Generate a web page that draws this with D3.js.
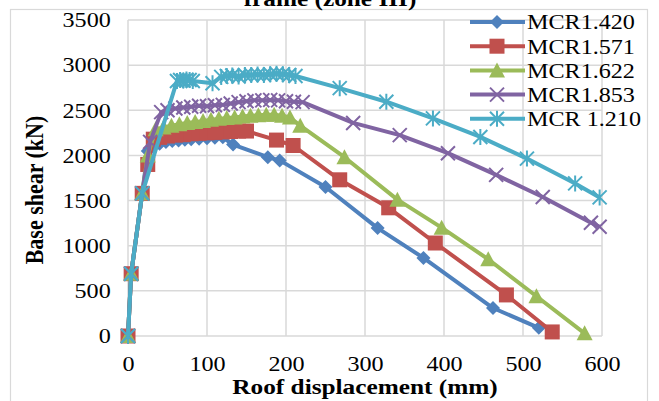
<!DOCTYPE html>
<html>
<head>
<meta charset="utf-8">
<script src="https://cdn.jsdelivr.net/npm/d3@7"></script>
<style>
  html, body { margin: 0; padding: 0; background: #fff; }
  svg { display: block; font-family: "Liberation Serif", "Times New Roman", serif; }
</style>
</head>
<body>
<svg id="chart" width="659" height="401"></svg>
<script>
// displacement (mm) and base shear (kN)
const x1420 = [0, 4, 18, 25, 32, 40, 48, 56, 64, 72, 80, 90, 100, 110, 120, 133, 177, 192, 250, 316, 374, 462, 520];
const y1420 = [0, 690, 1580, 2050, 2110, 2130, 2150, 2160, 2165, 2175, 2180, 2185, 2190, 2195, 2200, 2120, 1980, 1945, 1650, 1195, 865, 310, 90];

const x1571 = [0, 4, 18, 25, 32, 40, 50, 60, 70, 80, 90, 100, 110, 120, 130, 140, 150, 188, 209, 268, 330, 389, 479, 537];
const y1571 = [0, 690, 1580, 1900, 2180, 2200, 2215, 2225, 2230, 2240, 2245, 2250, 2255, 2260, 2265, 2270, 2270, 2170, 2110, 1730, 1420, 1030, 455, 45];

const x1622 = [0, 4, 18, 25, 35, 45, 55, 65, 75, 85, 95, 105, 115, 125, 135, 145, 155, 165, 175, 185, 195, 205, 218, 274, 341, 397, 456, 517, 578];
const y1622 = [0, 690, 1580, 2000, 2290, 2310, 2330, 2345, 2360, 2370, 2380, 2395, 2405, 2415, 2420, 2430, 2440, 2445, 2450, 2450, 2440, 2420, 2330, 1980, 1510, 1200, 850, 440, 30];

const x1853 = [0, 4, 18, 28, 42, 50, 60, 70, 80, 90, 100, 110, 120, 130, 140, 150, 160, 170, 180, 190, 200, 210, 221, 285, 344, 405, 466, 525, 586, 597];
const y1853 = [0, 690, 1580, 2150, 2480, 2500, 2520, 2530, 2540, 2550, 2545, 2555, 2560, 2575, 2590, 2600, 2610, 2610, 2615, 2610, 2600, 2595, 2590, 2360, 2225, 2025, 1785, 1540, 1255, 1210];

const x1210 = [0, 4, 18, 62, 66, 70, 74, 78, 82, 107, 118, 125, 132, 140, 148, 156, 164, 172, 180, 188, 196, 204, 212, 268, 327, 386, 446, 505, 566, 597];
const y1210 = [0, 690, 1580, 2825, 2835, 2830, 2840, 2835, 2825, 2800, 2870, 2880, 2885, 2875, 2890, 2890, 2895, 2890, 2900, 2905, 2900, 2890, 2880, 2745, 2595, 2410, 2205, 1965, 1690, 1535];

const seriesNames = ["MCR1.420", "MCR1.571", "MCR1.622", "MCR1.853", "MCR 1.210"];
const seriesColors = ["#4F81BD", "#C0504D", "#9BBB59", "#8064A2", "#4BACC6"];
const seriesMarks = ["diamond", "square", "triangle", "x", "star"];
const xTicks = [0, 100, 200, 300, 400, 500, 600];
const yTicks = [0, 500, 1000, 1500, 2000, 2500, 3000, 3500];

const series = [
  [x1420, y1420], [x1571, y1571], [x1622, y1622], [x1853, y1853], [x1210, y1210]
].map(([xs, ys], i) => ({
  name: seriesNames[i], color: seriesColors[i], mark: seriesMarks[i],
  pts: xs.map((d, j) => [d, ys[j]])
}));

const svg = d3.select("#chart");
const grid = "#d9d9d9";
const stretch = 1.15; // source picture is a bit wider than tall

const x = d3.scaleLinear().domain([0, 600]).range([128, 602]);
const y = d3.scaleLinear().domain([0, 3500]).range([336, 20]);

// outer chart border
svg.append("rect")
  .attr("x", 10.5).attr("y", 9.5)
  .attr("width", 637).attr("height", 400)
  .attr("fill", "none").attr("stroke", grid).attr("stroke-width", 1.2);

// title (its top line is cut off in the source)
svg.append("text")
  .attr("transform", `translate(330,6) scale(${stretch},1)`)
  .attr("text-anchor", "middle")
  .attr("font-weight", "bold").attr("font-size", 22)
  .text("frame (zone III)");

// gridlines
svg.append("g").selectAll("line").data(yTicks).join("line")
  .attr("x1", x(0)).attr("x2", x(600))
  .attr("y1", d => y(d)).attr("y2", d => y(d))
  .attr("stroke", grid).attr("stroke-width", 1.5);
svg.append("g").selectAll("line").data(xTicks).join("line")
  .attr("x1", d => x(d)).attr("x2", d => x(d))
  .attr("y1", y(0)).attr("y2", y(3500))
  .attr("stroke", grid).attr("stroke-width", 1.5);

// axes (labels only)
const xAxis = svg.append("g")
  .attr("transform", `translate(0,${y(0)})`)
  .call(d3.axisBottom(x).tickValues(xTicks).tickFormat(d3.format("d")).tickSize(0).tickPadding(20));
const yAxis = svg.append("g")
  .attr("transform", `translate(${x(0)},0)`)
  .call(d3.axisLeft(y).tickValues(yTicks).tickFormat(d3.format("d")).tickSize(0).tickPadding(15));
[xAxis, yAxis].forEach(g => {
  g.select(".domain").remove();
  g.selectAll(".tick text")
    .attr("font-family", "Liberation Serif, Times New Roman, serif")
    .attr("font-size", 21).attr("fill", "#000")
    .attr("transform", `scale(${stretch},1)`);
});

// axis titles
svg.append("text")
  .attr("transform", `translate(365,394) scale(${stretch},1)`)
  .attr("text-anchor", "middle")
  .attr("font-weight", "bold").attr("font-size", 22)
  .text("Roof displacement (mm)");
svg.append("text")
  .attr("transform", `translate(43,190) scale(${stretch},1) rotate(-90)`)
  .attr("text-anchor", "middle")
  .attr("font-weight", "bold").attr("font-size", 22)
  .text("Base shear (kN)");

// markers
function drawMark(g, type, color) {
  if (type === "diamond") {
    g.append("path").attr("d", "M0,-7L7,0L0,7L-7,0Z").attr("fill", color);
  } else if (type === "square") {
    g.append("rect").attr("x", -7.5).attr("y", -7.5).attr("width", 15).attr("height", 15).attr("fill", color);
  } else if (type === "triangle") {
    g.append("path").attr("d", "M0,-8L8,7L-8,7Z").attr("fill", color);
  } else if (type === "x") {
    g.append("path").attr("d", "M-7,-7L7,7M7,-7L-7,7")
      .attr("stroke", color).attr("stroke-width", 2).attr("fill", "none");
  } else {
    g.append("path").attr("d", "M-7,-7L7,7M7,-7L-7,7M0,-8L0,8")
      .attr("stroke", color).attr("stroke-width", 2).attr("fill", "none");
  }
}

const line = d3.line().x(d => x(d[0])).y(d => y(d[1]));

series.forEach(s => {
  const g = svg.append("g");
  g.append("path")
    .attr("d", line(s.pts))
    .attr("fill", "none")
    .attr("stroke", s.color)
    .attr("stroke-width", 4)
    .attr("stroke-linejoin", "round");
  g.selectAll("g.m").data(s.pts).join("g")
    .attr("class", "m")
    .attr("transform", d => `translate(${x(d[0])},${y(d[1])})`)
    .each(function () { drawMark(d3.select(this), s.mark, s.color); });
});

// legend
const legend = svg.append("g");
series.forEach((s, i) => {
  const ly = 22 + i * 24.2;
  legend.append("line")
    .attr("x1", 470).attr("x2", 525).attr("y1", ly).attr("y2", ly)
    .attr("stroke", s.color).attr("stroke-width", 4);
  const mg = legend.append("g").attr("transform", `translate(497,${ly})`);
  drawMark(mg, s.mark, s.color);
  legend.append("text")
    .attr("transform", `translate(527,${ly}) scale(${stretch},1)`)
    .attr("dy", "0.35em")
    .attr("font-size", 21)
    .text(s.name);
});
</script>
</body>
</html>
